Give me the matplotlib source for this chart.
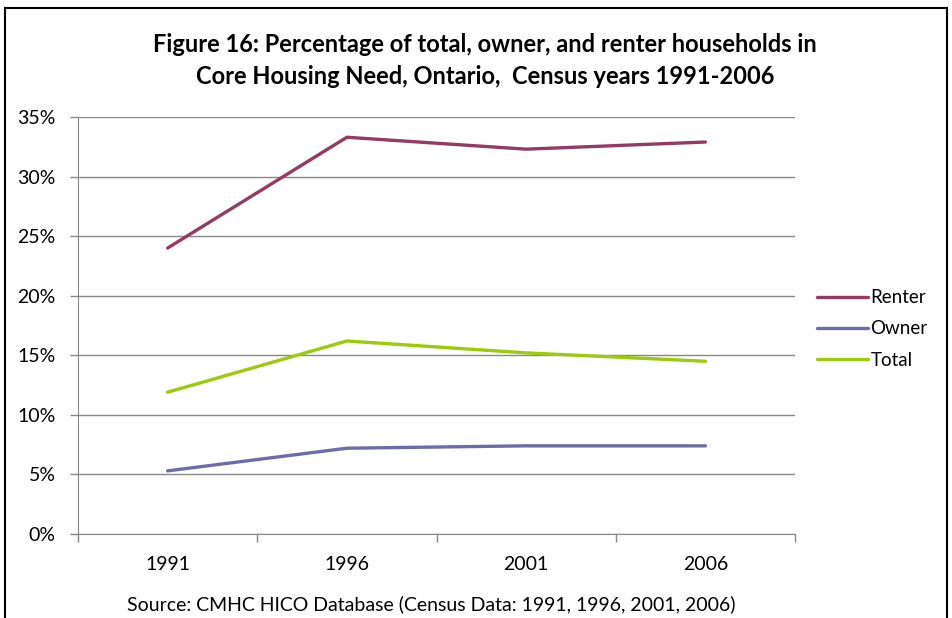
import matplotlib
matplotlib.use("Agg")
import matplotlib.pyplot as plt
from matplotlib.patches import Rectangle

years = ["1991", "1996", "2001", "2006"]
renter = [24.0, 33.3, 32.3, 32.9]
owner = [5.3, 7.2, 7.4, 7.4]
total = [11.9, 16.2, 15.2, 14.5]
yticks = [0, 5, 10, 15, 20, 25, 30, 35]

plt.rcParams['font.family'] = ['Lato', 'DejaVu Sans']

W, H = 952, 618
fig = plt.figure(figsize=(W / 100, H / 100), dpi=100)
L, R, T, B = 78, 795, 117, 534
ax = fig.add_axes([L / W, 1 - B / H, (R - L) / W, (B - T) / H])

x = [0.5, 1.5, 2.5, 3.5]
ax.plot(x, renter, color="#953A64", lw=2.4, label="Renter", solid_capstyle="round")
ax.plot(x, owner, color="#6D6DA6", lw=2.4, label="Owner", solid_capstyle="round")
ax.plot(x, total, color="#9DCB0C", lw=2.4, label="Total", solid_capstyle="round")

ax.set_xlim(0, 4)
ax.set_ylim(0, 35)
ax.set_yticks(yticks)
ax.set_yticklabels([f"{v}%" for v in yticks])
ax.set_xticks([0, 1, 2, 3, 4])
ax.set_xticklabels([])
ax.set_xticks(x, minor=True)
ax.set_xticklabels(years, minor=True)
ax.tick_params(axis="x", which="minor", length=0, pad=16, labelsize=14)
ax.tick_params(axis="x", which="major", length=6, color="#888888", width=1)
ax.tick_params(axis="y", length=6, color="#888888", width=1, labelsize=14, pad=10)
ax.yaxis.grid(True, color="#888888", lw=1)
ax.set_axisbelow(True)
for s in ["top", "right"]:
    ax.spines[s].set_visible(False)
ax.spines["left"].set_color("#888888")
ax.spines["bottom"].set_color("#888888")

leg = ax.legend(loc="center left", bbox_to_anchor=(800 / W, 1 - 329 / H), bbox_transform=fig.transFigure,
                frameon=False, fontsize=13.5, handlelength=2.7, handletextpad=0.15, labelspacing=0.75)

fig.text(485 / W, 1 - 45 / H, "Figure 16: Percentage of total, owner, and renter households in",
         ha="center", va="center", fontsize=17, fontweight="bold")
fig.text(485 / W, 1 - 76 / H, "Core Housing Need, Ontario,  Census years 1991-2006",
         ha="center", va="center", fontsize=17, fontweight="bold")
fig.text(431 / W, 1 - 604 / H, "Source: CMHC HICO Database (Census Data: 1991, 1996, 2001, 2006)",
         ha="center", va="center", fontsize=14)

fig.patches.append(Rectangle((5 / W, -0.05), 942 / W, 1.05 - 8 / H, transform=fig.transFigure,
                             fill=False, edgecolor="black", lw=1.5))

fig.savefig("out.png", dpi=100)
